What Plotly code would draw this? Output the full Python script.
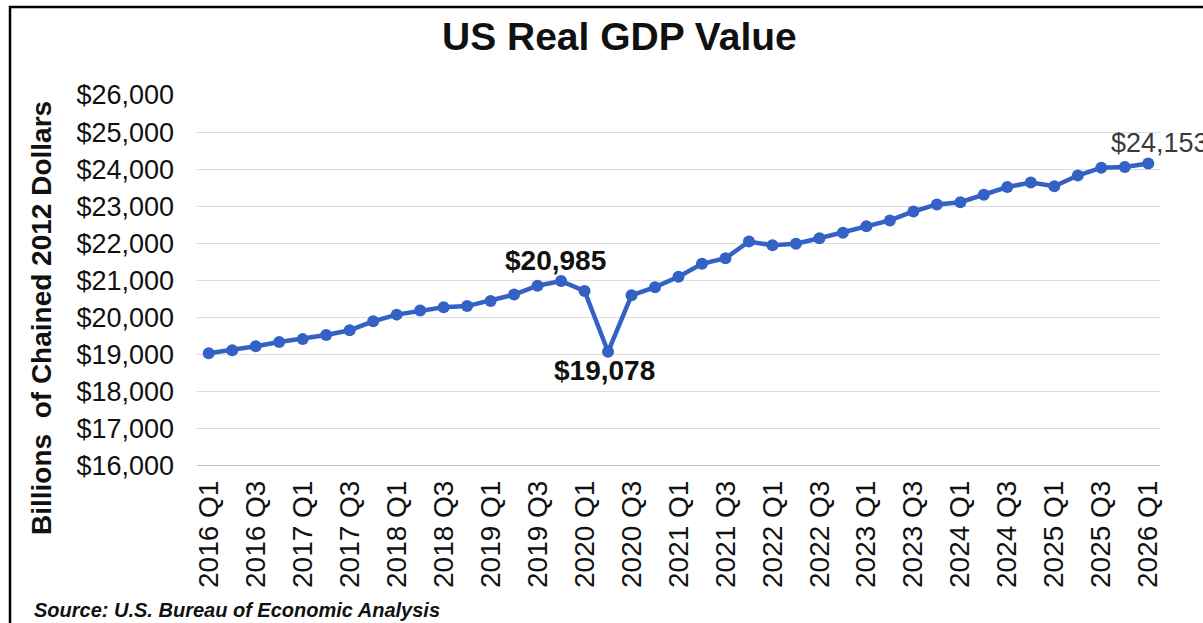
import plotly.graph_objects as go

# Quarterly real GDP, billions of chained dollars
quarters = [f"{y} Q{q}" for y in range(2016, 2026) for q in range(1, 5)] + ["2026 Q1"]
gdp = [
    19040, 19120, 19230, 19340, 19420, 19530, 19660, 19900,
    20080, 20190, 20280, 20310, 20450, 20620, 20860, 20985,
    20720, 19078, 20600, 20820, 21100, 21450, 21600, 22050,
    21950, 21990, 22140, 22290, 22460, 22620, 22860, 23050,
    23110, 23310, 23520, 23640, 23540, 23830, 24040, 24060,
    24153,
]
tick_labels = quarters[::2]
y_ticks = list(range(16000, 26001, 1000))

FONT = "Liberation Sans"
LINE_BLUE = "#3461C6"

# Labelled points: (quarter, value, x offset px, y offset px, colour, bold)
callouts = [
    ("2019 Q4", 20985, -6, 21, "#111111", True),
    ("2020 Q2", 19078, -4, -19, "#111111", True),
    ("2026 Q1", 24153, 12, 21, "#3a3a3a", False),
]

W, H = 1203, 623
L, R, T, B = 197, 43, 95, 157
pw, ph = W - L - R, H - T - B

def px_x(px):
    return (px - L) / pw

def px_y(py):
    return (H - B - py) / ph

fig = go.Figure()
fig.add_trace(go.Scatter(
    x=quarters, y=gdp, mode="lines+markers",
    line=dict(color=LINE_BLUE, width=4.5),
    marker=dict(color=LINE_BLUE, size=12),
    cliponaxis=False, showlegend=False,
))

for q, v, dx, dy, col, bold in callouts:
    fig.add_annotation(
        x=q, y=v, xref="x", yref="y", showarrow=False,
        xanchor="center", yanchor="middle",
        text=f"<b>${v:,}</b>" if bold else f"${v:,}",
        font=dict(size=28 if bold else 27, color=col, family=FONT),
        xshift=dx, yshift=dy,
    )

fig.add_annotation(
    x=px_x(619), y=px_y(37), xref="paper", yref="paper", showarrow=False,
    xanchor="center", yanchor="middle",
    text="<b>US Real GDP Value</b>",
    font=dict(size=39, color="#111111", family=FONT),
)
fig.add_annotation(
    x=px_x(41), y=px_y(318), xref="paper", yref="paper", showarrow=False,
    xanchor="center", yanchor="middle",
    text="<b>Billions  of Chained 2012 Dollars</b>", textangle=-90,
    font=dict(size=28, color="#111111", family=FONT),
)
fig.add_annotation(
    x=px_x(32), y=px_y(610), xref="paper", yref="paper", showarrow=False,
    xanchor="left", yanchor="middle",
    text="<b><i>Source: U.S. Bureau of Economic Analysis</i></b>",
    font=dict(size=20, color="#111111", family=FONT),
)

# Frame around the chart
fig.add_shape(
    type="rect", xref="paper", yref="paper",
    x0=px_x(10), x1=px_x(1240), y0=px_y(660), y1=px_y(7),
    line=dict(color="#000000", width=2.5), layer="above",
)

fig.update_layout(
    width=W, height=H,
    margin=dict(l=L, r=R, t=T, b=B),
    paper_bgcolor="white", plot_bgcolor="white",
    font=dict(family=FONT, color="#111111"),
    xaxis=dict(
        type="category", range=[-0.5, len(quarters) - 0.5],
        tickmode="array", tickvals=tick_labels, ticktext=tick_labels,
        tickangle=-90, tickfont=dict(size=28, color="#111111"),
        showgrid=False, showline=False, ticks="", zeroline=False,
        ticklabelstandoff=8,
    ),
    yaxis=dict(
        range=[16000, 26000], tickvals=y_ticks,
        ticktext=[f"${v:,}" for v in y_ticks],
        tickfont=dict(size=27, color="#111111"),
        showgrid=True, gridcolor="#dcdcdc", gridwidth=1.3,
        zeroline=False, showline=False, ticks="", ticklabelstandoff=22,
    ),
)
fig.add_shape(
    type="line", xref="paper", yref="y", x0=0, x1=1, y0=16000, y1=16000,
    line=dict(color="#bfbfbf", width=2), layer="below",
)

fig.write_html("out.html")
